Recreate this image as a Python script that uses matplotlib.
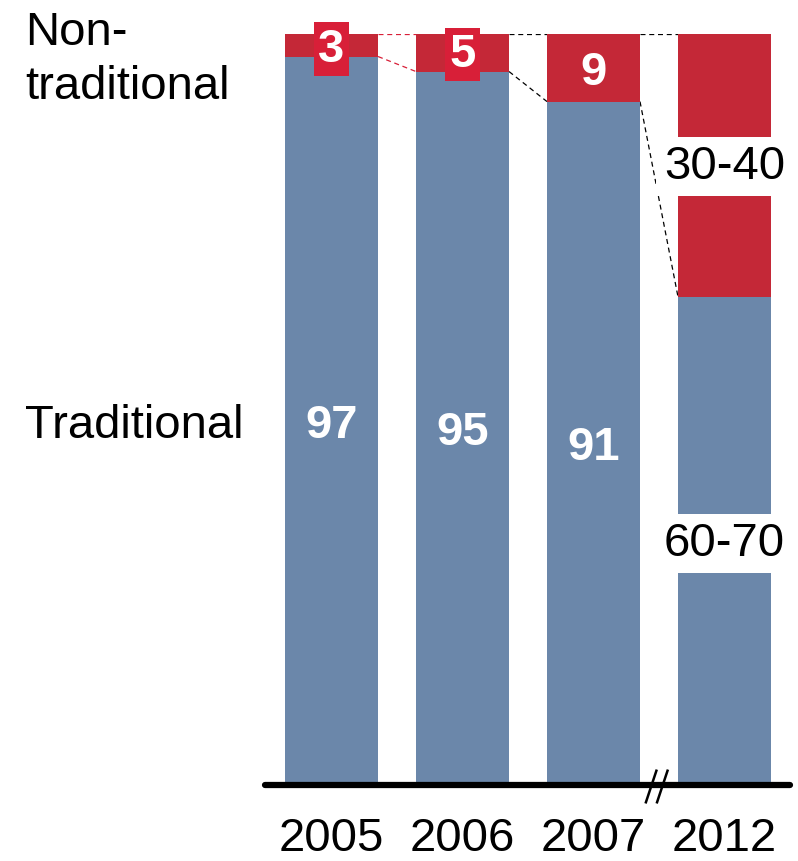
import matplotlib
matplotlib.use("Agg")
import matplotlib.pyplot as plt
import numpy as np

# Data
years = ["2005", "2006", "2007", "2012"]
traditional = [97, 95, 91, 65]
non_traditional = [3, 5, 9, 35]
trad_labels = ["97", "95", "91", "60-70"]
nontrad_labels = ["3", "5", "9", "30-40"]

blue = "#6b87aa"
red = "#c42837"
red_box = "#d81f38"

plt.rcParams["font.family"] = ["Liberation Sans", "DejaVu Sans"]

fig = plt.figure(figsize=(7.98, 8.62), dpi=100)
ax = fig.add_axes([265 / 798, 76 / 862, 525 / 798, 751 / 862])
ax.set_xlim(-0.508, 3.5)
ax.set_ylim(0, 100)
ax.axis("off")

x = np.arange(len(years))
w = 0.71
ax.bar(x, traditional, width=w, color=blue, zorder=2)
ax.bar(x, non_traditional, width=w, bottom=traditional, color=red, zorder=2)

# dashed connectors between bars
for i in range(len(years) - 1):
    c = red_box if i == 0 else "black"
    ax.plot([x[i] + w / 2, x[i + 1] - w / 2], [traditional[i], traditional[i + 1]],
            ls=(0, (4, 3)), lw=0.9, color=c, zorder=1)
    ax.plot([x[i] + w / 2, x[i + 1] - w / 2], [100, 100],
            ls=(0, (4, 3)), lw=0.9, color=c, zorder=1)

# values inside bars
trad_y = [48.0, 47.0, 45.0]
for i in range(3):
    ax.text(x[i], trad_y[i], trad_labels[i], color="white", fontsize=34,
            fontweight="bold", ha="center", va="center", zorder=5)

nt_y = [98.0, 97.3, 95.0]
for i in range(3):
    if i < 2:
        ax.text(x[i], nt_y[i], nontrad_labels[i], color="white", fontsize=34,
                fontweight="bold", ha="center", va="center", zorder=5,
                bbox=dict(boxstyle="square,pad=0.1", fc=red_box, ec="none"))
    else:
        ax.text(x[i], nt_y[i], nontrad_labels[i], color="white", fontsize=34,
                fontweight="bold", ha="center", va="center", zorder=5)

# range labels for 2012
ax.text(x[3], 82.4, nontrad_labels[3], color="black", fontsize=34,
        ha="center", va="center", zorder=6,
        bbox=dict(boxstyle="square,pad=0.16", fc="white", ec="none"))
ax.text(x[3], 32.2, trad_labels[3], color="black", fontsize=34,
        ha="center", va="center", zorder=6,
        bbox=dict(boxstyle="square,pad=0.16", fc="white", ec="none"))

# baseline with break
ax.plot([-0.508, 3.5], [0, 0], color="black", lw=4.5, solid_capstyle="round",
        clip_on=False, zorder=4)
for bx in [2.44, 2.525]:
    ax.plot([bx - 0.04, bx + 0.04], [-2.3, 1.9], color="black", lw=1.8,
            clip_on=False, zorder=4)

# year labels
for i, yr in enumerate(years):
    ax.text(x[i], -7.0, yr, fontsize=34, ha="center", va="center")

# row labels
fig.text(25 / 798, 1 - 60 / 862, "Non-\ntraditional", fontsize=34,
         ha="left", va="center", linespacing=1.28)
fig.text(25 / 798, 1 - 426 / 862, "Traditional", fontsize=34,
         ha="left", va="center")

fig.savefig("out.png", dpi=100)
